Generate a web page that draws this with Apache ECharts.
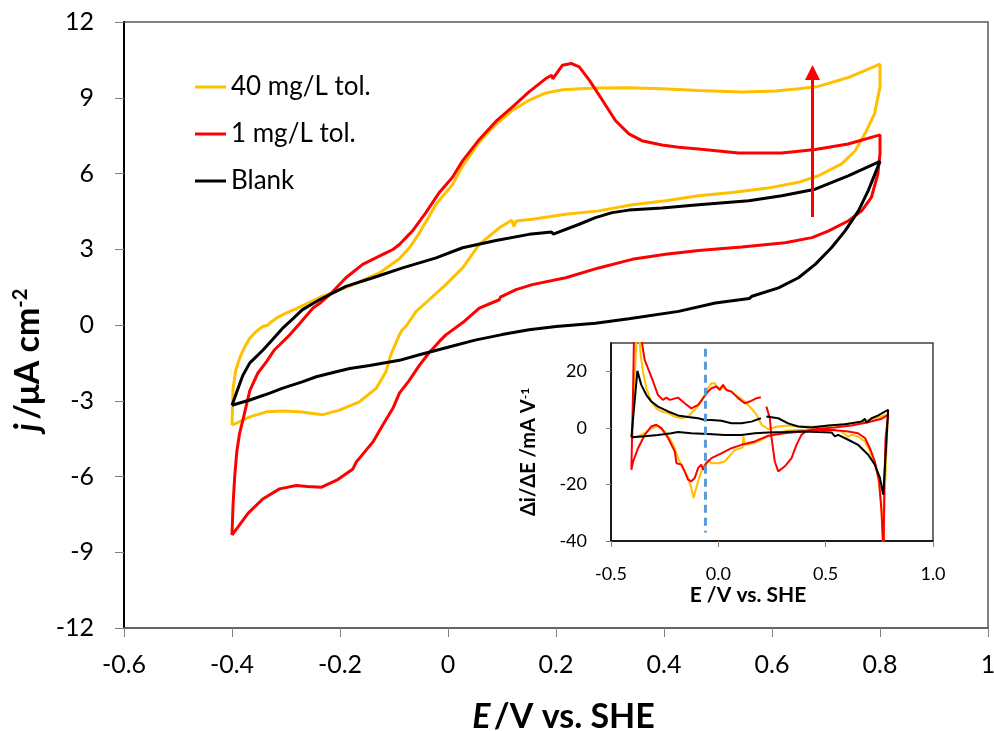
<!DOCTYPE html>
<html><head><meta charset="utf-8">
<script src="https://cdn.jsdelivr.net/npm/echarts@6/dist/echarts.min.js"></script>
<style>html,body{margin:0;padding:0;background:#fff}#c{width:994px;height:731px}</style>
</head><body><div id="c"></div>
<script>
// ---------- data (main CV, j in µA cm^-2 vs E in V vs SHE) ----------
const seriesNames = ['40 mg/L tol.', '1 mg/L tol.', 'Blank'];
const xTicksMain = [-0.6, 1, 0.2];   // min, max, step
const yTicksMain = [-12, 12, 3];
const xTicksInset = [-0.5, 1, 0.5];
const yTicksInset = [-40, 30, 20];

const tol40Main = [[-0.40,-3.97],[-0.398,-2.5],[-0.393,-1.8],[-0.386,-1.32],[-0.376,-0.85],[-0.367,-0.52],[-0.355,-0.25],[-0.343,-0.06],[-0.333,0.0],[-0.330,0.08],[-0.318,0.27],[-0.30,0.47],[-0.281,0.65],[-0.256,0.9],[-0.232,1.14],[-0.205,1.35],[-0.176,1.6],[-0.127,2.06],[-0.09,2.62],[-0.07,3.1],[-0.053,3.65],[-0.035,4.3],[-0.022,4.79],[0.008,5.55],[0.027,6.3],[0.058,7.25],[0.089,7.95],[0.119,8.5],[0.15,8.9],[0.181,9.19],[0.212,9.32],[0.273,9.39],[0.335,9.4],[0.396,9.36],[0.464,9.29],[0.544,9.23],[0.606,9.27],[0.649,9.36],[0.686,9.45],[0.741,9.8],[0.8,10.33],
[0.8,9.43],[0.79,8.37],[0.772,7.57],[0.754,6.9],[0.729,6.38],[0.686,5.91],[0.649,5.65],[0.6,5.45],[0.526,5.25],[0.464,5.12],[0.403,4.92],[0.341,4.76],[0.279,4.52],[0.218,4.39],[0.156,4.19],[0.126,4.12],[0.122,3.9],[0.118,4.15],[0.095,3.85],[0.058,3.19],[0.027,2.26],[-0.004,1.6],[-0.035,1.0],[-0.059,0.54],[-0.078,-0.06],[-0.085,-0.2],[-0.09,-0.39],[-0.106,-1.18],[-0.115,-1.85],[-0.133,-2.51],[-0.164,-3.04],[-0.201,-3.37],[-0.232,-3.55],[-0.275,-3.44],[-0.306,-3.41],[-0.336,-3.44],[-0.367,-3.64],[-0.40,-3.97]];

const tol1Main = [[-0.40,-8.32],[-0.398,-7.1],[-0.395,-6.0],[-0.391,-5.0],[-0.386,-4.3],[-0.378,-3.6],[-0.367,-2.6],[-0.352,-1.9],[-0.336,-1.45],[-0.322,-1.0],[-0.293,-0.39],[-0.275,0.05],[-0.25,0.67],[-0.238,0.85],[-0.219,1.2],[-0.189,1.87],[-0.158,2.4],[-0.115,2.86],[-0.102,2.99],[-0.09,3.19],[-0.072,3.59],[-0.066,3.72],[-0.041,4.45],[-0.016,5.25],[0.008,5.84],[0.027,6.5],[0.058,7.35],[0.089,8.07],[0.119,8.63],[0.15,9.23],[0.181,9.76],[0.192,9.89],[0.194,9.75],[0.212,10.29],[0.228,10.36],[0.243,10.22],[0.262,9.69],[0.286,8.9],[0.31,8.1],[0.335,7.57],[0.359,7.3],[0.396,7.13],[0.427,7.04],[0.464,6.97],[0.538,6.81],[0.618,6.81],[0.68,6.95],[0.741,7.17],[0.8,7.53],
[0.8,6.78],[0.796,5.98],[0.784,5.05],[0.766,4.52],[0.741,4.12],[0.704,3.72],[0.674,3.46],[0.624,3.26],[0.544,3.09],[0.464,2.95],[0.403,2.8],[0.341,2.6],[0.279,2.26],[0.218,1.87],[0.156,1.6],[0.126,1.4],[0.097,1.1],[0.095,1.0],[0.058,0.67],[0.03,0.14],[-0.004,-0.39],[-0.016,-0.65],[-0.035,-1.1],[-0.053,-1.6],[-0.072,-2.2],[-0.09,-2.7],[-0.102,-3.3],[-0.121,-3.97],[-0.139,-4.63],[-0.17,-5.43],[-0.176,-5.7],[-0.204,-6.12],[-0.235,-6.43],[-0.26,-6.4],[-0.281,-6.36],[-0.312,-6.49],[-0.343,-6.89],[-0.37,-7.45],[-0.40,-8.32]];

const blankMain = [[-0.40,-3.18],[-0.386,-2.35],[-0.38,-2.0],[-0.367,-1.5],[-0.355,-1.25],[-0.343,-1.0],[-0.324,-0.55],[-0.305,-0.1],[-0.287,0.25],[-0.27,0.6],[-0.25,0.85],[-0.238,1.0],[-0.189,1.53],[-0.139,1.87],[-0.084,2.26],[-0.022,2.66],[0.027,3.06],[0.089,3.35],[0.15,3.59],[0.192,3.68],[0.195,3.6],[0.243,3.99],[0.273,4.25],[0.304,4.45],[0.335,4.55],[0.396,4.63],[0.464,4.76],[0.557,4.92],[0.618,5.12],[0.68,5.38],[0.741,5.91],[0.8,6.48],
[0.778,5.31],[0.76,4.52],[0.735,3.72],[0.71,3.06],[0.68,2.4],[0.649,1.87],[0.612,1.47],[0.563,1.14],[0.558,1.05],[0.495,0.87],[0.427,0.54],[0.335,0.25],[0.273,0.07],[0.2,-0.06],[0.15,-0.19],[0.1,-0.38],[0.05,-0.6],[0.0,-0.88],[-0.053,-1.18],[-0.09,-1.4],[-0.145,-1.6],[-0.182,-1.72],[-0.207,-1.85],[-0.244,-2.05],[-0.27,-2.25],[-0.306,-2.5],[-0.33,-2.7],[-0.367,-2.97],[-0.40,-3.18]];

// arrow (from, to)
const arrowMain = [[0.675,4.28],[0.675,10.0]];

// ---------- inset data (Δi/ΔE in mA V^-1) ----------
const tol40Inset = [[-0.40,-3.6],[-0.397,8],[-0.385,25],[-0.375,40],[-0.362,26],[-0.351,19.9],[-0.335,14.0],[-0.312,9.3],[-0.289,6.9],[-0.265,5.8],[-0.234,5.2],[-0.203,4.0],[-0.172,3.4],[-0.141,4.0],[-0.11,6.4],[-0.079,9.3],[-0.048,14.0],[-0.032,15.8],[-0.017,15.8],[-0.001,14.0],[0.014,14.6],[0.038,13.4],[0.061,12.8],[0.092,11.1],[0.123,9.3],[0.154,6.9],[0.178,4.6],[0.201,1.1],[0.232,-0.4],[0.279,0.5],[0.325,0.8],[0.387,0.5],[0.465,0.5],[0.543,0.8],[0.62,1.6],[0.698,2.8],[0.76,4.0],[0.79,4.8],[0.776,-21.3],[0.768,-45],[0.76,-27.1],[0.745,-17.7],[0.729,-13.0],[0.706,-8.3],[0.683,-4.8],[0.651,-3.0],[0.62,-2.5],[0.605,-3.2],[0.574,-1.3],[0.512,-0.7],[0.387,-0.7],[0.31,-1.05],[0.232,-3.0],[0.17,-5.4],[0.123,-6.0],[0.117,-3.0],[0.113,-7.0],[0.077,-7.8],[0.03,-11.9],[-0.001,-12.5],[-0.032,-12.5],[-0.048,-11.3],[-0.063,-13.0],[-0.079,-15.4],[-0.094,-18.9],[-0.107,-22.4],[-0.115,-24.8],[-0.126,-21.3],[-0.141,-17.7],[-0.164,-14.2],[-0.188,-10.7],[-0.203,-7.2],[-0.227,-3.6],[-0.25,-1.3],[-0.281,0.5],[-0.312,-0.1],[-0.343,-1.9],[-0.374,-3.0],[-0.40,-3.6]];

const tol1Inset = [[-0.405,-14.8],[-0.402,-3.6],[-0.397,14.0],[-0.393,31.6],[-0.38,45],[-0.359,31.6],[-0.343,24],[-0.328,21.1],[-0.304,16.4],[-0.281,11.6],[-0.258,9.9],[-0.242,10.7],[-0.226,9.9],[-0.188,10.7],[-0.157,8.7],[-0.126,6.9],[-0.094,8.1],[-0.071,10.5],[-0.048,12.8],[-0.032,14.0],[-0.009,14.6],[0.007,13.4],[0.022,15.2],[0.038,13.4],[0.061,12.8],[0.092,10.5],[0.123,8.7],[0.146,9.3],[0.178,10.5],[0.198,10.8],['-','-'],[0.224,7.5],[0.24,3.4],[0.248,-3.6],[0.263,-11.9],[0.279,-15.4],[0.286,-16.0],[0.31,-13.6],[0.341,-10.7],[0.364,-6.0],[0.387,-2.5],[0.411,-1.05],[0.465,-0.34],[0.543,0.13],[0.62,0.8],[0.698,2.0],[0.76,3.2],[0.791,4.6],[0.779,-3.6],[0.773,-21.3],[0.77,-45],[0.76,-29.5],[0.749,-18.9],[0.729,-11.9],[0.706,-7.2],[0.683,-3.6],[0.651,-1.9],[0.605,-1.3],[0.543,-0.8],[0.465,-0.8],[0.387,-1.3],[0.31,-1.9],[0.232,-2.8],[0.17,-4.8],[0.108,-6.0],[0.061,-7.2],[0.014,-9.0],[-0.032,-10.7],[-0.056,-12.5],[-0.071,-14.8],[-0.079,-13.0],[-0.094,-14.2],[-0.11,-17.7],[-0.126,-18.9],[-0.141,-18.3],[-0.157,-15.4],[-0.172,-13.0],[-0.195,-12.5],[-0.203,-8.3],[-0.234,-3.6],[-0.265,-0.1],[-0.289,1.1],[-0.312,0.5],[-0.343,-2.5],[-0.374,-7.2],[-0.397,-11.9],[-0.405,-14.8]];

const blankInset = [[-0.405,-3.3],[-0.377,20.2],[-0.359,15.2],[-0.335,11.6],[-0.312,9.3],[-0.281,7.5],[-0.234,5.8],[-0.188,4.4],[-0.141,3.8],[-0.094,3.4],[-0.063,2.8],[-0.032,2.8],[0.014,2.5],[0.061,1.6],[0.108,1.6],[0.154,2.2],[0.198,3.4],['-','-'],[0.224,4.0],[0.232,4.4],[0.279,3.4],[0.325,1.6],[0.372,0.5],[0.434,0.1],[0.512,0.8],[0.589,1.3],[0.667,2.2],[0.683,3.2],[0.69,1.8],[0.714,3.4],[0.745,4.4],[0.791,6.4],[0.784,-3.6],[0.768,-23.6],[0.753,-17.7],[0.729,-13.0],[0.698,-9.5],[0.651,-6.0],[0.605,-4.2],[0.558,-2.5],[0.543,-3.0],[0.527,-1.6],[0.465,-1.5],[0.387,-1.3],[0.31,-1.5],[0.232,-1.6],[0.17,-1.9],[0.108,-2.5],[0.03,-2.5],[-0.048,-2.2],[-0.126,-1.9],[-0.188,-1.5],[-0.219,-1.9],[-0.281,-2.5],[-0.343,-3.0],[-0.405,-3.3]];

const markerInset = [[-0.06,28],[-0.06,-37]];

// ---------- chart ----------
const FONT = 'Lato, "Noto Sans", "DejaVu Sans", sans-serif';
const colors = ['#FFC000', '#FF0000', '#000000'];
const chart = echarts.init(document.getElementById('c'), null, {renderer: 'canvas'});

function lineSeries(name, data, color, xi, width, z) {
  return {name: name, type: 'line', xAxisIndex: xi, yAxisIndex: xi, data: data,
    showSymbol: false, symbol: 'none', connectNulls: false, clip: true, z: z,
    lineStyle: {color: color, width: width}, itemStyle: {color: color},
    emphasis: {disabled: true}, animation: false};
}

const option = {
  animation: false,
  backgroundColor: '#ffffff',
  legend: {
    orient: 'vertical', left: 195, top: 72, padding: 0, itemWidth: 31, itemHeight: 3, itemGap: 17,
    icon: 'rect', selectedMode: false, data: seriesNames,
    textStyle: {fontFamily: FONT, fontSize: 26, color: '#000', lineHeight: 30}
  },
  grid: [
    {left: 124, top: 22, width: 864, height: 606, show: true, outerBoundsMode: 'none', containLabel: false,
     borderColor: '#595959', borderWidth: 1.5, backgroundColor: 'transparent'},
    {left: 611, top: 343, width: 322, height: 198, show: true, outerBoundsMode: 'none', containLabel: false,
     borderColor: '#404040', borderWidth: 1.5, backgroundColor: '#ffffff', z: 3}
  ],
  xAxis: [
    {gridIndex: 0, type: 'value', min: xTicksMain[0], max: xTicksMain[1], interval: xTicksMain[2],
     axisLine: {show: true, onZero: false, lineStyle: {color: '#595959', width: 1.5}},
     axisTick: {show: true, length: 9, lineStyle: {color: '#808080', width: 1}},
     splitLine: {show: false},
     axisLabel: {fontFamily: FONT, fontSize: 25, color: '#000', margin: 24,
       formatter: v => String(Number(v.toFixed(1)))},
     name: '{i|E} {b|/V vs. SHE}', nameLocation: 'middle', nameGap: 72,
     nameTextStyle: {padding: [0, 0, 0, 15], rich: {
       i: {fontFamily: FONT, fontSize: 34, fontWeight: 'bold', fontStyle: 'italic', color: '#000'},
       b: {fontFamily: FONT, fontSize: 34, fontWeight: 'bold', color: '#000'}}}
    },
    {gridIndex: 1, type: 'value', min: xTicksInset[0], max: xTicksInset[1], interval: xTicksInset[2], z: 4,
     axisLine: {show: true, onZero: false, lineStyle: {color: '#000', width: 1.5}},
     axisTick: {show: true, length: 6, lineStyle: {color: '#808080', width: 1}},
     splitLine: {show: false},
     axisLabel: {fontFamily: FONT, fontSize: 18, color: '#000', margin: 24,
       formatter: v => v.toFixed(1)},
     name: 'E /V vs. SHE', nameLocation: 'middle', nameGap: 44,
     nameTextStyle: {fontFamily: FONT, fontSize: 21, fontWeight: 'bold', color: '#000', padding: [0, 48, 0, 0]}
    }
  ],
  yAxis: [
    {gridIndex: 0, type: 'value', min: yTicksMain[0], max: yTicksMain[1], interval: yTicksMain[2],
     axisLine: {show: true, onZero: false, lineStyle: {color: '#000', width: 2}},
     axisTick: {show: true, length: 9, lineStyle: {color: '#808080', width: 1}},
     splitLine: {show: false},
     axisLabel: {fontFamily: FONT, fontSize: 25, color: '#000', margin: 30},
     name: '{i|j} {b|/μA cm}{s|-2}', nameLocation: 'middle', nameGap: 77,
     nameTextStyle: {padding: [0, 70, 0, 0], rich: {
       i: {fontFamily: FONT, fontSize: 34, fontWeight: 'bold', fontStyle: 'italic', color: '#000', verticalAlign: 'bottom'},
       b: {fontFamily: FONT, fontSize: 34, fontWeight: 'bold', color: '#000', verticalAlign: 'bottom'},
       s: {fontFamily: FONT, fontSize: 20, fontWeight: 'bold', color: '#000', verticalAlign: 'top'}}}
    },
    {gridIndex: 1, type: 'value', min: yTicksInset[0], max: yTicksInset[1], interval: yTicksInset[2], z: 4,
     axisLine: {show: true, onZero: false, lineStyle: {color: '#000', width: 1.5}},
     axisTick: {show: true, length: 5, lineStyle: {color: '#808080', width: 1}},
     splitLine: {show: false},
     axisLabel: {fontFamily: FONT, fontSize: 18, color: '#000', margin: 24, showMaxLabel: false},
     name: '{b|Δi/ΔE /mA V}{s|-1}', nameLocation: 'middle', nameGap: 72,
     nameTextStyle: {padding: [0, 20, 0, 0], rich: {
       b: {fontFamily: FONT, fontSize: 20, fontWeight: 'bold', color: '#000', verticalAlign: 'bottom'},
       s: {fontFamily: FONT, fontSize: 12, fontWeight: 'bold', color: '#000', verticalAlign: 'top'}}}
    }
  ],
  series: [
    lineSeries(seriesNames[0], tol40Main, colors[0], 0, 3, 2),
    lineSeries(seriesNames[1], tol1Main, colors[1], 0, 3, 2),
    lineSeries(seriesNames[2], blankMain, colors[2], 0, 3, 2),
    {name: 'arrow', type: 'line', xAxisIndex: 0, yAxisIndex: 0, z: 3,
     data: [{value: arrowMain[0], symbol: 'none'},
            {value: arrowMain[1], symbol: 'triangle', symbolSize: [15, 15]}],
     showSymbol: true, showAllSymbol: true, lineStyle: {color: '#FF0000', width: 3},
     itemStyle: {color: '#FF0000'}, emphasis: {disabled: true}},
    lineSeries(seriesNames[0], tol40Inset, colors[0], 1, 2, 5),
    lineSeries(seriesNames[1], tol1Inset, colors[1], 1, 2, 5),
    lineSeries(seriesNames[2], blankInset, colors[2], 1, 2, 5),
    {name: 'marker', type: 'line', xAxisIndex: 1, yAxisIndex: 1, z: 6, data: markerInset,
     showSymbol: false, symbol: 'none', lineStyle: {color: '#5B9BD5', width: 3, type: [8, 5]},
     emphasis: {disabled: true}}
  ]
};
chart.setOption(option);
</script></body></html>
